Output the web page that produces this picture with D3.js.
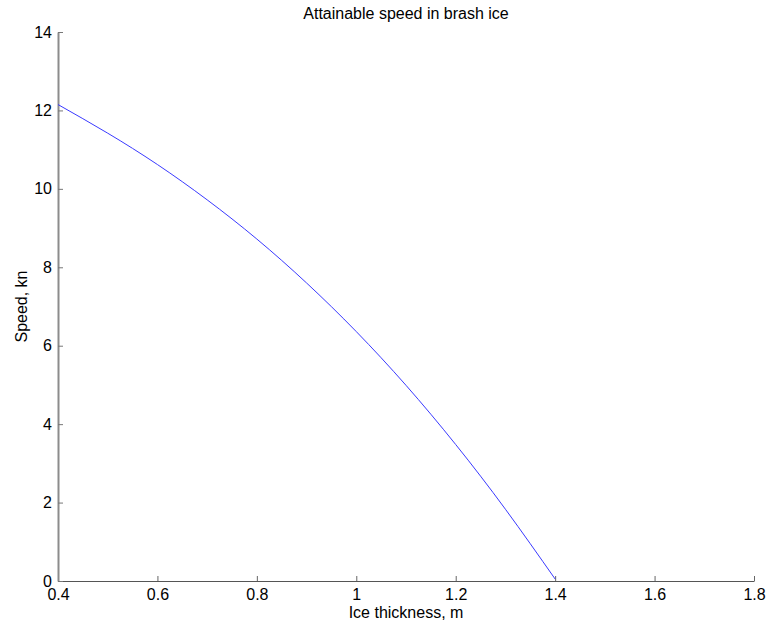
<!DOCTYPE html>
<html>
<head>
<meta charset="utf-8">
<script src="https://cdn.jsdelivr.net/npm/d3@7"></script>
<style>
  body { margin: 0; background: #fff; }
  text { font-family: "Liberation Sans", Arial, sans-serif; fill: #000; }
</style>
</head>
<body>
<script>
// data
const thickness = [0.4, 0.5, 0.6, 0.7, 0.8, 0.9, 1.0, 1.1, 1.2, 1.3, 1.4];
const speed = [12.15, 11.42, 10.62, 9.72, 8.72, 7.60, 6.36, 4.99, 3.48, 1.83, 0.05];
const xTicks = [0.4, 0.6, 0.8, 1.0, 1.2, 1.4, 1.6, 1.8];
const yTicks = [0, 2, 4, 6, 8, 10, 12, 14];

const W = 766;
const H = 626;
const margin = { top: 32, right: 12, bottom: 45, left: 58 };
const width = W - margin.left - margin.right;
const height = H - margin.top - margin.bottom;

const svg = d3.select('body').append('svg')
  .attr('width', W)
  .attr('height', H);

const g = svg.append('g')
  .attr('transform', `translate(${margin.left},${margin.top})`);

const x = d3.scaleLinear().domain([0.4, 1.8]).range([0, width]);
const y = d3.scaleLinear().domain([0, 14]).range([height, 0]);

// x axis, ticks pointing inward
const xAxis = d3.axisBottom(x).tickValues(xTicks).tickSizeInner(-5).tickSizeOuter(0)
  .tickPadding(8).tickFormat(d => d3.format('')(+d.toFixed(1)));
const gx = g.append('g').attr('transform', `translate(0,${height})`).call(xAxis);
gx.attr('font-size', 16).attr('font-family', null);
gx.select('.domain').attr('stroke', '#555');
gx.selectAll('.tick line').attr('stroke', '#666');

// y axis, ticks pointing inward
const yAxis = d3.axisLeft(y).tickValues(yTicks).tickSizeInner(-5).tickSizeOuter(0).tickPadding(6);
const gy = g.append('g').call(yAxis);
gy.attr('font-size', 16).attr('font-family', null);
gy.select('.domain').attr('stroke', '#8c8c8c').attr('stroke-width', 2);
gy.selectAll('.tick line').attr('stroke', '#777');

// the curve
const pts = thickness.map((t, i) => [t, speed[i]]);
g.append('path')
  .datum(pts)
  .attr('fill', 'none')
  .attr('stroke', '#3a3aff')
  .attr('stroke-width', 1)
  .attr('d', d3.line().x(d => x(d[0])).y(d => y(d[1])).curve(d3.curveNatural));

// labels
svg.append('text')
  .attr('x', margin.left + width / 2)
  .attr('y', 19)
  .attr('text-anchor', 'middle')
  .attr('font-size', 16)
  .text('Attainable speed in brash ice');

svg.append('text')
  .attr('x', margin.left + width / 2)
  .attr('y', 618)
  .attr('text-anchor', 'middle')
  .attr('font-size', 16)
  .text('Ice thickness, m');

svg.append('text')
  .attr('transform', `translate(27,${margin.top + height / 2}) rotate(-90)`)
  .attr('text-anchor', 'middle')
  .attr('font-size', 16)
  .text('Speed, kn');
</script>
</body>
</html>
